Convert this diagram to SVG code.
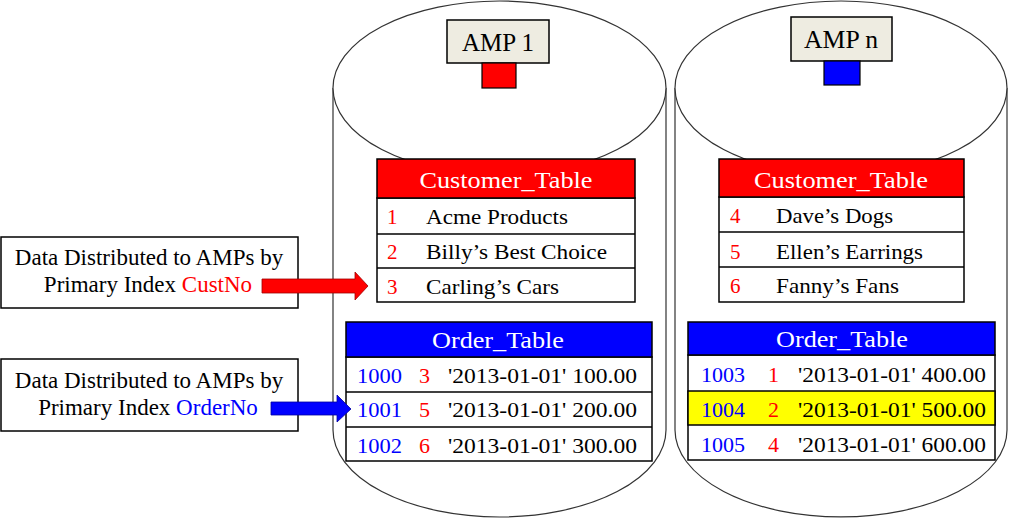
<svg xmlns="http://www.w3.org/2000/svg" width="1009" height="519" viewBox="0 0 1009 519">
<style>
text{font-family:"Liberation Serif","Times New Roman",serif;}
.cyl{fill:#fff;stroke:#333;stroke-width:1.2;}
.amp{fill:#EEECE1;stroke:#000;stroke-width:1.5;}
.tb{fill:#fff;stroke:#000;stroke-width:1.5;}
.hr{fill:#FF0000;stroke:#000;stroke-width:1.5;}
.hb{fill:#0000FF;stroke:#000;stroke-width:1.5;}
.ln{stroke:#000;stroke-width:1.5;}
.ht{font-size:24px;fill:#fff;text-anchor:middle;}
.ct{font-size:21px;fill:#000;}
.ot{font-size:22px;fill:#000;}
.r{fill:#FF0000;}
.b{fill:#0000FF;}
.lbl{font-size:23px;fill:#000;text-anchor:middle;}
.box{fill:#fff;stroke:#000;stroke-width:1.5;}
</style>

<g id="amp1">
  <path class="cyl" d="M333,88 L333,430 A166.5,87 0 0 0 666,430 L666,88"/>
  <ellipse class="cyl" cx="499.5" cy="88" rx="166.5" ry="87"/>
  <rect class="amp" x="447" y="20" width="102" height="43"/>
  <text x="498" y="51" font-size="26" text-anchor="middle" textLength="72" lengthAdjust="spacingAndGlyphs">AMP 1</text>
  <rect x="482" y="63" width="34" height="25" fill="#FF0000" stroke="#000" stroke-width="1.2"/>
</g>

<g id="ampn">
  <path class="cyl" d="M675,88 L675,430 A166,87 0 0 0 1007,430 L1007,88"/>
  <ellipse class="cyl" cx="841" cy="88" rx="166" ry="87"/>
  <rect class="amp" x="791" y="17" width="101" height="44"/>
  <text x="841" y="48" font-size="26" text-anchor="middle" textLength="74" lengthAdjust="spacingAndGlyphs">AMP n</text>
  <rect x="824" y="61" width="36" height="24" fill="#0000FF" stroke="#000" stroke-width="1.2"/>
</g>

<g id="customer_table_1">
  <rect class="tb" x="377" y="198" width="258" height="104"/>
  <line class="ln" x1="377" y1="234" x2="635" y2="234"/>
  <line class="ln" x1="377" y1="268" x2="635" y2="268"/>
  <rect class="hr" x="377" y="159" width="258" height="39"/>
  <text class="ht" x="506" y="188" textLength="173" lengthAdjust="spacingAndGlyphs">Customer_Table</text>
  <text class="ct r" x="387" y="224">1</text>
  <text class="ct" x="426" y="224" textLength="142" lengthAdjust="spacingAndGlyphs">Acme Products</text>
  <text class="ct r" x="387" y="259">2</text>
  <text class="ct" x="426" y="259" textLength="181" lengthAdjust="spacingAndGlyphs">Billy’s Best Choice</text>
  <text class="ct r" x="387" y="294">3</text>
  <text class="ct" x="426" y="294" textLength="133" lengthAdjust="spacingAndGlyphs">Carling’s Cars</text>
</g>

<g id="customer_table_n">
  <rect class="tb" x="719" y="197" width="245" height="105"/>
  <line class="ln" x1="719" y1="232" x2="964" y2="232"/>
  <line class="ln" x1="719" y1="267" x2="964" y2="267"/>
  <rect class="hr" x="719" y="159" width="245" height="38"/>
  <text class="ht" x="841" y="188" textLength="174" lengthAdjust="spacingAndGlyphs">Customer_Table</text>
  <text class="ct r" x="730" y="223">4</text>
  <text class="ct" x="776" y="223" textLength="117" lengthAdjust="spacingAndGlyphs">Dave’s Dogs</text>
  <text class="ct r" x="730" y="259">5</text>
  <text class="ct" x="776" y="259" textLength="147" lengthAdjust="spacingAndGlyphs">Ellen’s Earrings</text>
  <text class="ct r" x="730" y="293">6</text>
  <text class="ct" x="776" y="293" textLength="123" lengthAdjust="spacingAndGlyphs">Fanny’s Fans</text>
</g>

<g id="order_table_1">
  <rect class="tb" x="346" y="357" width="306" height="104"/>
  <line class="ln" x1="346" y1="392" x2="652" y2="392"/>
  <line class="ln" x1="346" y1="427" x2="652" y2="427"/>
  <rect class="hb" x="346" y="322" width="306" height="35"/>
  <text class="ht" x="498" y="348" textLength="132" lengthAdjust="spacingAndGlyphs">Order_Table</text>
  <text class="ot b" x="357" y="383" textLength="45" lengthAdjust="spacingAndGlyphs">1000</text>
  <text class="ot r" x="419" y="383">3</text>
  <text class="ot" x="448" y="383" textLength="189" lengthAdjust="spacingAndGlyphs">'2013-01-01' 100.00</text>
  <text class="ot b" x="357" y="417" textLength="45" lengthAdjust="spacingAndGlyphs">1001</text>
  <text class="ot r" x="419" y="417">5</text>
  <text class="ot" x="448" y="417" textLength="189" lengthAdjust="spacingAndGlyphs">'2013-01-01' 200.00</text>
  <text class="ot b" x="357" y="453" textLength="45" lengthAdjust="spacingAndGlyphs">1002</text>
  <text class="ot r" x="419" y="453">6</text>
  <text class="ot" x="448" y="453" textLength="189" lengthAdjust="spacingAndGlyphs">'2013-01-01' 300.00</text>
</g>

<g id="order_table_n">
  <rect class="tb" x="688" y="355" width="307" height="105"/>
  <rect x="688" y="391" width="307" height="34" fill="#FFFF00" stroke="#000" stroke-width="1.5"/>
  <rect class="hb" x="688" y="322" width="307" height="33"/>
  <text class="ht" x="842" y="347" textLength="132" lengthAdjust="spacingAndGlyphs">Order_Table</text>
  <text class="ot b" x="701" y="382" textLength="44" lengthAdjust="spacingAndGlyphs">1003</text>
  <text class="ot r" x="768" y="382">1</text>
  <text class="ot" x="798" y="382" textLength="188" lengthAdjust="spacingAndGlyphs">'2013-01-01' 400.00</text>
  <text class="ot b" x="701" y="417" textLength="44" lengthAdjust="spacingAndGlyphs">1004</text>
  <text class="ot r" x="768" y="417">2</text>
  <text class="ot" x="798" y="417" textLength="188" lengthAdjust="spacingAndGlyphs">'2013-01-01' 500.00</text>
  <text class="ot b" x="701" y="452" textLength="44" lengthAdjust="spacingAndGlyphs">1005</text>
  <text class="ot r" x="768" y="452">4</text>
  <text class="ot" x="798" y="452" textLength="188" lengthAdjust="spacingAndGlyphs">'2013-01-01' 600.00</text>
</g>

<g id="label_custno">
  <rect class="box" x="1" y="237" width="297" height="71"/>
  <text class="lbl" x="149" y="265">Data Distributed to AMPs by</text>
  <text class="lbl" x="148" y="292">Primary Index <tspan class="r">CustNo</tspan></text>
</g>

<g id="label_orderno">
  <rect class="box" x="1" y="359" width="297" height="72"/>
  <text class="lbl" x="149" y="388">Data Distributed to AMPs by</text>
  <text class="lbl" x="148" y="415">Primary Index <tspan class="b">OrderNo</tspan></text>
</g>

<g id="connectors">
  <path d="M262,279 L355,279 L355,272 L368,286 L355,300 L355,293 L262,293 Z" fill="#FF0000" stroke="#A00000" stroke-width="0.8"/>
  <path d="M271,402 L337,402 L337,395 L351,409 L337,422 L337,415 L271,415 Z" fill="#0000FF" stroke="#0000A0" stroke-width="0.8"/>
</g>
</svg>
